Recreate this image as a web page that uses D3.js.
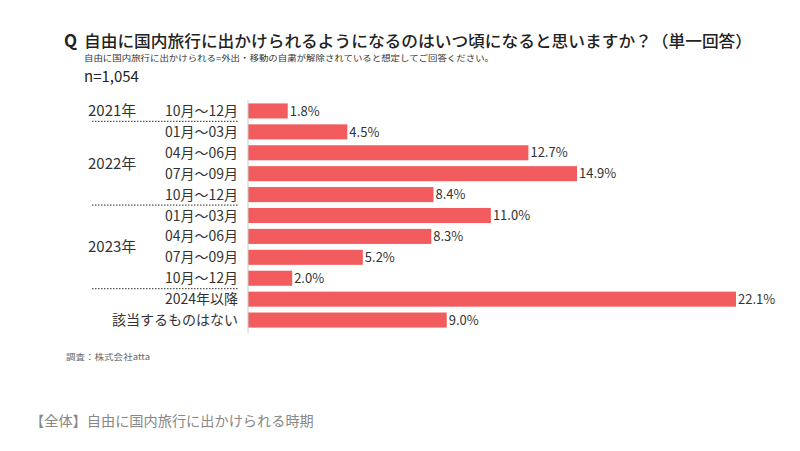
<!DOCTYPE html>
<html>
<head>
<meta charset="utf-8">
<script src="https://cdn.jsdelivr.net/npm/d3@7"></script>
<style>
  body { margin: 0; background: #fff; }
  text { font-family: "Noto Sans CJK JP", "Noto Sans", sans-serif; }
</style>
</head>
<body>
<div id="chart"></div>
<script>
// chart data
var categories = ["10月～12月", "01月～03月", "04月～06月", "07月～09月", "10月～12月",
    "01月～03月", "04月～06月", "07月～09月", "10月～12月", "2024年以降", "該当するものはない"];
var values = [1.8, 4.5, 12.7, 14.9, 8.4, 11.0, 8.3, 5.2, 2.0, 22.1, 9.0];
var yearLabels = ["2021年", "2022年", "2023年"];
// index range (first, last) of each year group
var yearRanges = [[0, 0], [1, 4], [5, 8]];

var svgWidth = 800;
var svgHeight = 451;

var svg = d3.select("#chart")
    .append("svg")
    .attr("width", svgWidth)
    .attr("height", svgHeight);

// x scale: bar length
var x = d3.scaleLinear()
    .domain([0, 22.1])
    .range([248, 736]);

// y scale: one band per row
var y = d3.scaleBand()
    .domain(d3.range(categories.length))
    .range([100.5, 330.5])
    .paddingInner(0.28)
    .paddingOuter(0.14);

// titles
svg.append("text")
    .attr("x", 64).attr("y", 46.5)
    .attr("font-size", 17).attr("font-weight", "bold").attr("fill", "#222")
    .text("Q");
svg.append("text")
    .attr("x", 84).attr("y", 46.5)
    .attr("font-size", 16).attr("font-weight", "500").attr("fill", "#222")
    .attr("textLength", 668).attr("lengthAdjust", "spacingAndGlyphs")
    .text("自由に国内旅行に出かけられるようになるのはいつ頃になると思いますか？（単一回答）");
svg.append("text")
    .attr("x", 84).attr("y", 61)
    .attr("font-size", 8).attr("fill", "#333")
    .attr("textLength", 410).attr("lengthAdjust", "spacingAndGlyphs")
    .text("自由に国内旅行に出かけられる=外出・移動の自粛が解除されていると想定してご回答ください。");
svg.append("text")
    .attr("x", 84).attr("y", 82)
    .attr("font-size", 15).attr("fill", "#222")
    .text("n=1,054");

// bars
svg.selectAll("rect.bar")
    .data(values)
    .enter()
    .append("rect")
    .attr("class", "bar")
    .attr("x", x(0))
    .attr("y", (d, i) => y(i))
    .attr("width", d => x(d) - x(0))
    .attr("height", y.bandwidth())
    .attr("fill", "#f25c5e");

// value labels
svg.selectAll("text.val")
    .data(values)
    .enter()
    .append("text")
    .attr("class", "val")
    .attr("x", d => x(d) + 2)
    .attr("y", (d, i) => y(i) + y.bandwidth() / 2)
    .attr("dy", "0.36em")
    .attr("font-size", 13).attr("fill", "#333")
    .text(d => d.toFixed(1) + "%");

// category labels
svg.selectAll("text.cat")
    .data(categories)
    .enter()
    .append("text")
    .attr("class", "cat")
    .attr("x", 238)
    .attr("y", (d, i) => y(i) + y.bandwidth() / 2)
    .attr("dy", "0.36em")
    .attr("text-anchor", "end")
    .attr("font-size", 14).attr("fill", "#333")
    .text(d => d);

// year labels centred on their group
svg.selectAll("text.year")
    .data(yearLabels)
    .enter()
    .append("text")
    .attr("class", "year")
    .attr("x", 88)
    .attr("y", (d, i) => (y(yearRanges[i][0]) + y(yearRanges[i][1]) + y.bandwidth()) / 2)
    .attr("dy", "0.36em")
    .attr("font-size", 15).attr("fill", "#333")
    .text(d => d);

// dotted separators after each year group
svg.selectAll("line.sep")
    .data(yearRanges)
    .enter()
    .append("line")
    .attr("class", "sep")
    .attr("x1", 92).attr("x2", 238)
    .attr("y1", d => y(d[1]) + y.bandwidth() + y.step() * y.paddingInner() / 2)
    .attr("y2", d => y(d[1]) + y.bandwidth() + y.step() * y.paddingInner() / 2)
    .attr("stroke", "#555").attr("stroke-width", 1.2)
    .attr("stroke-dasharray", "1.5,1.5");

// vertical axis line
svg.append("line")
    .attr("x1", x(0)).attr("x2", x(0))
    .attr("y1", 100).attr("y2", 333)
    .attr("stroke", "#ccc").attr("stroke-width", 1);

// source + caption
svg.append("text")
    .attr("x", 66).attr("y", 360)
    .attr("font-size", 8.5).attr("fill", "#666")
    .attr("textLength", 84).attr("lengthAdjust", "spacingAndGlyphs")
    .text("調査：株式会社atta");
svg.append("text")
    .attr("x", 30).attr("y", 426)
    .attr("font-size", 14.2).attr("fill", "#888")
    .text("【全体】自由に国内旅行に出かけられる時期");
</script>
</body>
</html>
